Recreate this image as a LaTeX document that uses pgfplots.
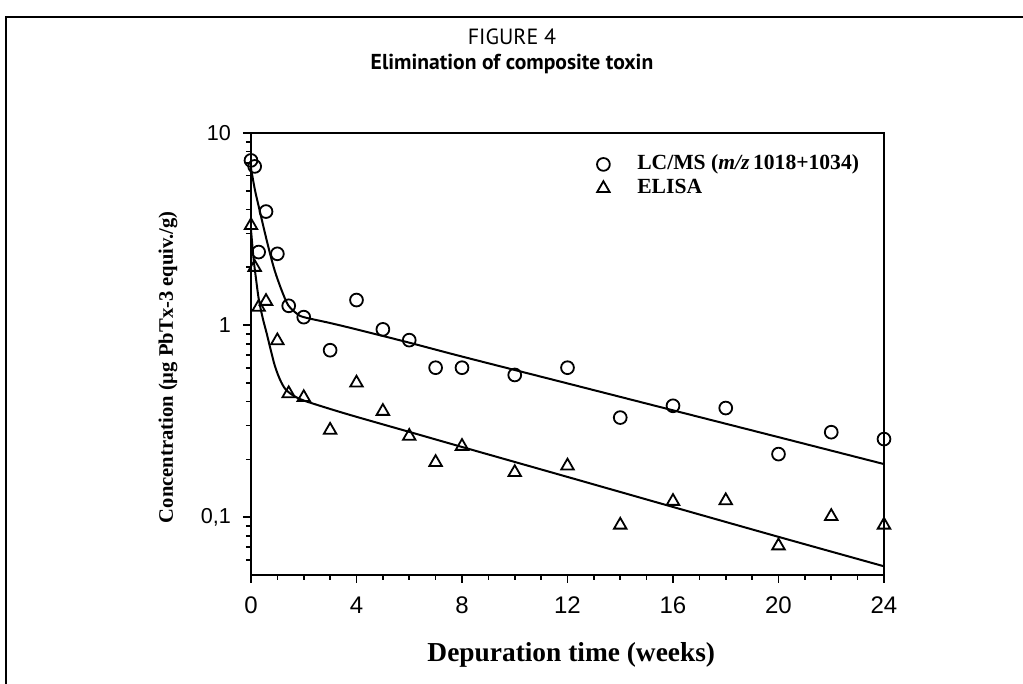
\documentclass[border=0pt]{standalone}
\usepackage{fontspec}
\usepackage{pgfplots}
\usepackage{pgfplotstable}
\pgfplotsset{compat=1.18}
\setmainfont{Liberation Serif}
\newfontfamily\tickfont{Liberation Sans}
\newfontfamily\titlefont{PT Sans}

\pgfplotstableread{
x y
0 7.2
0.14 6.7
0.29 2.4
0.57 3.9
1 2.35
1.43 1.26
2 1.1
3 0.74
4 1.35
5 0.95
6 0.835
7 0.60
8 0.60
10 0.55
12 0.60
14 0.33
16 0.38
18 0.37
20 0.213
22 0.277
24 0.255
}\lcms

\pgfplotstableread{
x y
0 3.3
0.14 2.0
0.29 1.24
0.57 1.33
1 0.83
1.43 0.44
2 0.42
3 0.284
4 0.50
5 0.356
6 0.264
7 0.193
8 0.234
10 0.171
12 0.185
14 0.091
16 0.121
18 0.122
20 0.071
22 0.101
24 0.091
}\elisa

\pgfplotstableread{
x y
0 6.55
0.15 5.05
0.34 3.89
0.53 3.01
0.72 2.36
0.91 1.90
1.16 1.52
1.41 1.27
1.73 1.15
2 1.10
3 1.025
4 0.95
6 0.81
8 0.686
12 0.497
16 0.360
20 0.261
24 0.189
}\lcmsfit

\pgfplotstableread{
x y
0 3.13
0.1 2.2
0.2 1.7
0.3 1.35
0.45 1.08
0.6 0.90
0.75 0.74
0.91 0.61
1.1 0.52
1.3 0.465
1.6 0.43
2 0.405
3 0.366
4 0.333
6 0.278
8 0.232
12 0.162
16 0.113
20 0.079
24 0.0555
}\elisafit

\begin{document}
\begin{tikzpicture}
\useasboundingbox (-125.5pt,-54.5pt) rectangle (386pt,287.5pt);
\fill[white] (-125.5pt,-54.5pt) rectangle (386pt,287.5pt);
\draw[line width=0.8pt] (-122.5pt,-70pt) -- (-122.5pt,279pt) -- (400pt,279pt);
\node[font=\titlefont\fontsize{11}{13}\selectfont] at (130.5pt,269pt) {FIGURE 4};
\node[font=\titlefont\bfseries\fontsize{10.8}{13}\selectfont] at (130.5pt,255.5pt) {Elimination of composite toxin};
\begin{axis}[
  at={(0pt,0pt)}, anchor=south west,
  scale only axis, width=316.5pt, height=221pt,
  ymode=log, ymin=0.05, ymax=10, xmin=0, xmax=24,
  xtick={0,4,8,12,16,20,24}, xticklabels={0,4,8,12,16,20,24},
  minor x tick num=3,
  ytick={0.1,1,10}, yticklabels={0{,}1,1,10},
  minor ytick={0.06,0.07,0.08,0.09,0.2,0.3,0.4,0.5,0.6,0.7,0.8,0.9,2,3,4,5,6,7,8,9},
  tick pos=left, tick align=outside,
  major tick length=4pt, minor tick length=2.5pt,
  axis line style={line width=1pt},
  every tick/.style={line width=0.8pt, black},
  xticklabel style={font=\tickfont\fontsize{12}{13}\selectfont, yshift=-3.5pt},
  yticklabel style={font=\tickfont\fontsize{10.8}{12}\selectfont, xshift=-2.5pt},
  clip=false,
  xlabel={\bfseries Depuration time (weeks)},
  ylabel={\bfseries Concentration (µg PbTx-3 equiv./g)},
  xlabel style={at={(axis description cs:0.506,-0.181)}, anchor=center, font=\fontsize{13.7}{15}\selectfont},
  ylabel style={at={(axis description cs:-0.131,0.47)}, anchor=center, font=\fontsize{10.3}{13}\selectfont},
  legend style={draw=none, fill=none, at={(0.546,0.957)}, anchor=north west,
    inner sep=0pt, font=\fontsize{10.8}{12}\selectfont,
    nodes={text height=8pt, text depth=2.5pt, inner sep=0.75pt},
    /tikz/every odd column/.append style={column sep=13pt}},
  legend cell align=left,
]
\addplot[only marks, mark=o, mark size=3.2pt, mark options={line width=0.9pt}] table {\lcms};
\addlegendentry{\bfseries LC/MS (\textit{m/z}\,1018+1034)}
\addplot[only marks, mark=triangle, mark size=3.6pt, mark options={line width=0.9pt}] table {\elisa};
\addlegendentry{\bfseries ELISA}
\addplot[smooth, line width=1pt, forget plot] table {\lcmsfit};
\addplot[smooth, line width=1pt, forget plot] table {\elisafit};
\end{axis}
\end{tikzpicture}
\end{document}
